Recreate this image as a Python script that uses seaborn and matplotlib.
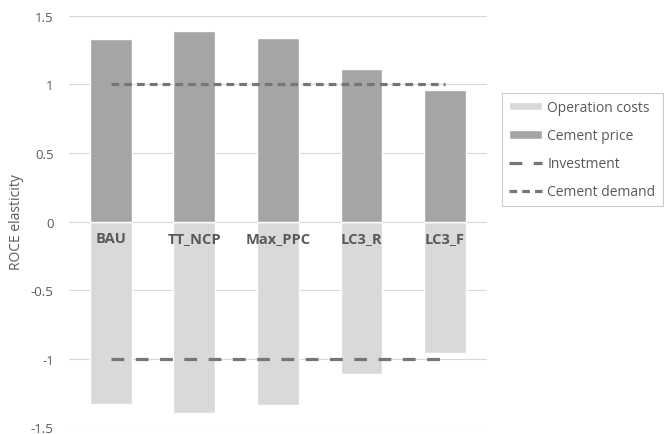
import matplotlib
matplotlib.use("Agg")
import matplotlib.pyplot as plt
import seaborn as sns
import numpy as np
import pandas as pd
from matplotlib.patches import Patch
from matplotlib.lines import Line2D

categories = ["BAU", "TT_NCP", "Max_PPC", "LC3_R", "LC3_F"]
operation_costs = [-1.33, -1.395, -1.34, -1.11, -0.96]
cement_price = [1.33, 1.39, 1.34, 1.11, 0.96]
investment = [-1, -1, -1, -1, -1]
cement_demand = [1, 1, 1, 1, 1]
yticks = [-1.5, -1, -0.5, 0, 0.5, 1, 1.5]
ytick_labels = ["-1.5", "-1", "-0.5", "0", "0.5", "1", "1.5"]

sns.set_theme(style="white")
plt.rcParams['font.family'] = ['Open Sans', 'DejaVu Sans']

df = pd.DataFrame({
    "category": categories * 2,
    "value": operation_costs + cement_price,
    "series": ["Operation costs"] * 5 + ["Cement price"] * 5,
})

fig = plt.figure(figsize=(6.64, 4.35), dpi=100)
ax = fig.add_axes([0.104, 0.016, 0.629, 0.945])

for y in yticks:
    ax.axhline(y, color="#d9d9d9", lw=0.8, zorder=0)

sns.barplot(data=df, x="category", y="value", hue="series", dodge=False,
            palette={"Operation costs": "#d9d9d9", "Cement price": "#a5a5a5"},
            width=0.5, ax=ax, legend=False, zorder=2, saturation=1)

xs = np.arange(len(categories))
ax.plot(xs, investment, color="#767676", lw=2.3, dashes=(4, 3.6), zorder=3)
ax.plot(xs, cement_demand, color="#767676", lw=2.3, dashes=(2.4, 1.6), zorder=3)

ax.set_ylim(-1.5, 1.5)
ax.set_xlim(-0.5, len(categories) - 0.5)
ax.set_yticks(yticks)
ax.set_yticklabels(ytick_labels, color="#595959", fontsize=9.5)
ax.set_xticks([])
ax.set_xlabel("")
ax.set_ylabel("ROCE elasticity", color="#595959", fontsize=10, labelpad=5)
ax.tick_params(axis="y", length=0, pad=11)
for s in ax.spines.values():
    s.set_visible(False)

for i, c in enumerate(categories):
    ax.text(i, -0.07, c, ha="center", va="top", fontsize=10.5, fontweight="bold",
            color="#595959", zorder=4)

handles = [
    Patch(facecolor="#d9d9d9", label="Operation costs"),
    Patch(facecolor="#a5a5a5", label="Cement price"),
    Line2D([0], [0], color="#767676", lw=2.3, dashes=(4, 3.6), label="Investment"),
    Line2D([0], [0], color="#767676", lw=2.3, dashes=(2.4, 1.6), label="Cement demand"),
]
leg = fig.legend(handles=handles, loc="upper left", bbox_to_anchor=(0.745, 0.80),
                 frameon=True, fancybox=False, edgecolor="#bfbfbf", fontsize=10,
                 handlelength=2.4, handleheight=0.6, labelspacing=0.95,
                 borderpad=0.5, handletextpad=0.4, labelcolor="#595959")
leg.get_frame().set_linewidth(0.8)

fig.savefig("out.png", dpi=100, facecolor="white")
